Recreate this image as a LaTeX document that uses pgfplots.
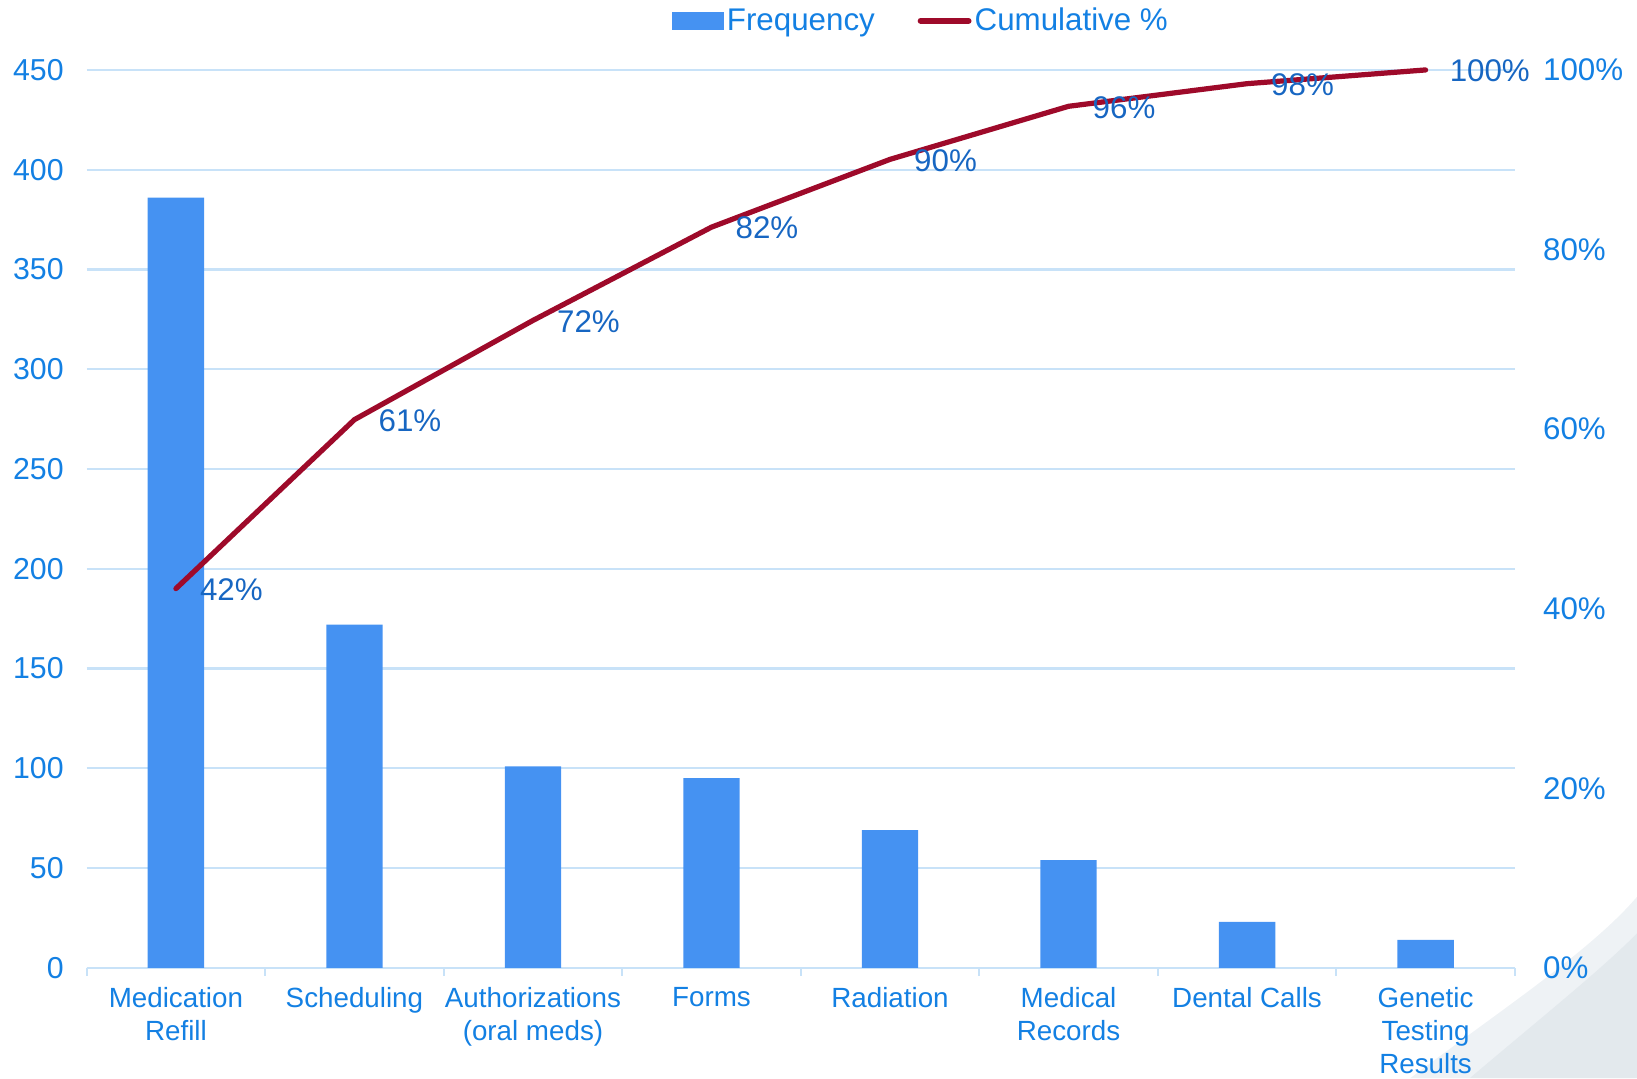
\documentclass[border=0pt]{standalone}
\usepackage{pgfplots}
\pgfplotsset{compat=1.18}
\usepackage{pgfplotstable}
\usepackage{fontspec}
\setmainfont{Liberation Sans}
\definecolor{barblue}{HTML}{4592F2}
\definecolor{linered}{HTML}{9E0A2A}
\definecolor{tickblue}{HTML}{1380E3}
\definecolor{labblue}{HTML}{1766C2}
\definecolor{gridc}{HTML}{C8E2F8}
\definecolor{deco1}{HTML}{EEF2F5}
\definecolor{deco2}{HTML}{E3E9ED}

\pgfplotstableread{
x freq cum
0 386 42.23
1 172 61.05
2 101 72.10
3 95 82.49
4 69 90.04
5 54 95.95
6 23 98.47
7 14 100
}\datatable

\begin{document}
\begin{tikzpicture}
\path[use as bounding box] (0,0) rectangle (784bp,516.3bp);
\fill[deco1] (675.5bp,0) .. controls (718bp,32bp) and (762bp,61bp) .. (784bp,86.8bp) -- (784bp,0) -- cycle;
\fill[deco2] (704bp,0) .. controls (737bp,28bp) and (767bp,52bp) .. (784bp,69.3bp) -- (784bp,0) -- cycle;

\begin{axis}[
  at={(41.5bp,52.8bp)}, anchor=south west, scale only axis,
  width=684bp, height=430bp,
  xmin=-0.5, xmax=7.5, ymin=0, ymax=450,
  ytick={0,50,...,450},
  xtick={0,...,7},
  xticklabels={Medication\\Refill, Scheduling, Authorizations\\(oral meds), Forms, Radiation, Medical\\Records, Dental Calls, Genetic\\Testing\\Results},
  minor xtick={-0.5,0.5,...,7.5},
  axis x line*=bottom, axis y line*=left,
  y axis line style={draw=none},
  x axis line style={gridc, line width=1bp, -},
  major tick length=0pt, minor tick length=4bp,
  tick align=outside,
  minor x tick style={gridc, line width=1bp},
  ymajorgrids, grid style={gridc, line width=1bp},
  /pgf/number format/assume math mode=true,
  yticklabel style={font=\fontsize{14.5bp}{17bp}\selectfont, color=tickblue, xshift=-7.5bp},
  xticklabel style={font=\fontsize{13.3bp}{15.8bp}\selectfont, color=tickblue, align=center, yshift=-6bp},
  legend columns=2,
  legend cell align=left,
  legend style={at={(0.4094,1.0547)}, anchor=west, draw=none, fill=none, inner sep=0pt,
    font=\fontsize{15bp}{17bp}\selectfont, text=tickblue,
    nodes={inner sep=1.5bp},
    /tikz/every even column/.append style={column sep=19bp}},
]
\addlegendimage{legend image code/.code={\fill[barblue] (0bp,-4.25bp) rectangle (24.5bp,4.25bp);}}
\addlegendentry{Frequency}
\addlegendimage{legend image code/.code={\draw[linered, line width=2.8bp, line cap=round] (1bp,0bp) -- (24bp,0bp);}}
\addlegendentry{Cumulative \%}
\addplot[ybar, bar width=27bp, fill=barblue, draw=none, forget plot] table[x=x, y=freq] {\datatable};
\end{axis}

\begin{axis}[
  at={(41.5bp,52.8bp)}, anchor=south west, scale only axis,
  width=684bp, height=430bp,
  xmin=-0.5, xmax=7.5, ymin=0, ymax=100,
  axis x line=none, axis y line*=right,
  y axis line style={draw=none},
  ytick={0,20,...,100},
  major tick length=0pt,
  clip=false,
  /pgf/number format/assume math mode=true,
  yticklabel={\pgfmathprintnumber{\tick}\%},
  yticklabel style={font=\fontsize{15bp}{17bp}\selectfont, color=tickblue, xshift=10bp},
]
\addplot[linered, line width=2.5bp, line join=round, line cap=round,
  point meta=y,
  nodes near coords={\pgfmathprintnumber[fixed,precision=0]{\pgfplotspointmeta}\%},
  nodes near coords style={anchor=west, xshift=7bp, yshift=-0.5bp, font=\fontsize{15bp}{17bp}\selectfont, text=labblue}]
  table[x=x, y=cum] {\datatable};
\end{axis}
\end{tikzpicture}
\end{document}
